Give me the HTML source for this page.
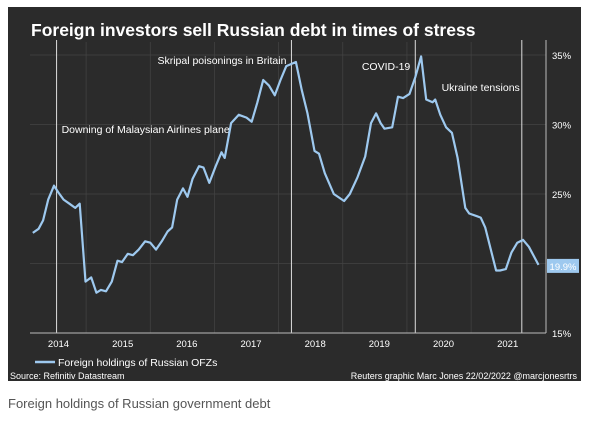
<!DOCTYPE html>
<html><head><meta charset="utf-8"><style>
body{margin:0;background:#fff;width:600px;height:416px;overflow:hidden;font-family:"Liberation Sans",sans-serif}
</style></head><body>
<svg width="600" height="416" viewBox="0 0 600 416">
<rect x="8" y="7" width="573" height="374" fill="#2b2b2b"/>
<text x="31" y="36" fill="#fff" font-size="17.5" font-weight="bold">Foreign investors sell Russian debt in times of stress</text>
<g id="grid"></g><g id="events"></g><g id="axes"></g><g id="series"></g>
<text x="10" y="379" fill="#fff" font-size="9">Source: Refinitiv Datastream</text>
<text x="577" y="379" fill="#fff" font-size="9" text-anchor="end">Reuters graphic Marc Jones 22/02/2022 @marcjonesrtrs</text>
<line x1="35" y1="362" x2="55" y2="362" stroke="#9ec9ef" stroke-width="2.5"/>
<text x="58" y="366" fill="#fff" font-size="10.5">Foreign holdings of Russian OFZs</text>
<text x="8" y="408" fill="#555" font-size="13">Foreign holdings of Russian government debt</text>
</svg>
<script>
const dates=[2013.60,2013.69,2013.76,2013.84,2013.93,2014.00,2014.08,2014.17,2014.26,2014.33,2014.42,2014.51,2014.59,2014.66,2014.74,2014.83,2014.92,2014.99,2015.08,2015.16,2015.25,2015.35,2015.43,2015.52,2015.61,2015.70,2015.77,2015.85,2015.94,2016.01,2016.09,2016.19,2016.26,2016.35,2016.45,2016.54,2016.59,2016.69,2016.81,2016.93,2017.01,2017.10,2017.19,2017.28,2017.37,2017.46,2017.55,2017.70,2017.79,2017.88,2017.99,2018.06,2018.15,2018.29,2018.45,2018.54,2018.66,2018.78,2018.87,2018.95,2019.02,2019.08,2019.20,2019.29,2019.37,2019.47,2019.56,2019.65,2019.73,2019.83,2019.87,2019.95,2020.04,2020.13,2020.22,2020.34,2020.40,2020.52,2020.58,2020.65,2020.82,2020.88,2020.97,2021.06,2021.15,2021.24,2021.33,2021.48];
const values=[22.2,22.5,23.1,24.6,25.6,25.1,24.6,24.3,24.0,24.3,18.7,19.0,17.9,18.1,18.0,18.7,20.2,20.1,20.7,20.6,21.0,21.6,21.5,21.0,21.6,22.3,22.6,24.6,25.4,24.8,26.1,27.0,26.9,25.8,27.0,28.0,27.6,30.1,30.7,30.5,30.2,31.6,33.2,32.8,32.1,33.2,34.2,34.5,32.5,30.8,28.1,27.9,26.5,25.0,24.5,25.0,26.2,27.7,30.1,30.8,30.1,29.7,29.8,32.0,31.9,32.2,33.4,34.9,31.8,31.6,31.8,30.7,29.8,29.4,27.6,24.0,23.6,23.4,23.3,22.6,19.5,19.5,19.6,20.8,21.5,21.7,21.2,19.9];
const yTicks=[35,30,25,15];
const yGrid=[35,30,25,20];
const xTicks=[2014,2015,2016,2017,2018,2019,2020,2021];
const eventDates=[2013.97,2017.63,2019.56,2021.22];
const eventLabels=["Downing of Malaysian Airlines plane","Skripal poisonings in Britain","COVID-19","Ukraine tensions"];
const lastLabel="19.9%";
const NS="http://www.w3.org/2000/svg";
const X=d=>58.5+(d-2014)*64.17;
const Y=v=>55+(35-v)*13.9;
function mk(tag,attrs,parent,txt){const e=document.createElementNS(NS,tag);for(const k in attrs)e.setAttribute(k,attrs[k]);if(txt!==undefined)e.textContent=txt;document.getElementById(parent).appendChild(e);return e;}
yGrid.forEach(v=>{const l=mk('line',{x1:30,x2:546,y1:Y(v),y2:Y(v),stroke:'#444','stroke-width':0.7},'grid');

});
xTicks.slice(0,7).forEach(t=>{const l=mk('line',{x1:X(t+0.43),x2:X(t+0.43),y1:42,y2:333,stroke:'#444','stroke-width':0.7},'grid');

});
const lblPos=[{a:'start',dx:5,y:133},{a:'end',dx:-5,y:64},{a:'end',dx:-5,y:70},{a:'end',dx:-2,y:91}];
eventDates.forEach((d,i)=>{const l=mk('line',{x1:X(d),x2:X(d),y1:40,y2:333,stroke:'#ddd','stroke-width':1},'events');


const p=lblPos[i];const t=mk('text',{x:X(d)+p.dx,y:p.y,fill:'#fff','font-size':10.5,'text-anchor':p.a},'events',eventLabels[i]);

});
const ax=mk('line',{x1:30,x2:546,y1:Y(15),y2:Y(15),stroke:'#bbb','stroke-width':1},'axes');


const ay=mk('line',{x1:546,x2:546,y1:40,y2:Y(15),stroke:'#bbb','stroke-width':1},'axes');


yTicks.forEach(v=>{const t=mk('text',{x:552,y:Y(v)+4,fill:'#fff','font-size':9.5},'axes',v+'%');

});
xTicks.forEach(v=>{const t=mk('text',{x:X(v),y:347,fill:'#fff','font-size':9.5,'text-anchor':'middle'},'axes',String(v));

});
const pts=dates.map((d,i)=>X(d).toFixed(1)+','+Y(values[i]).toFixed(1)).join(' ');
const pl=mk('polyline',{points:pts,fill:'none',stroke:'#9ec9ef','stroke-width':2.2,'stroke-linejoin':'round'},'series');


const ly=Y(values[values.length-1]);
const bx=mk('rect',{x:547,y:ly-6,width:32,height:14,fill:'#9ec9ef'},'series');


const bt=mk('text',{x:563,y:ly+5,fill:'#fff','font-size':9.5,'text-anchor':'middle'},'series',lastLabel);


</script>
</body></html>
